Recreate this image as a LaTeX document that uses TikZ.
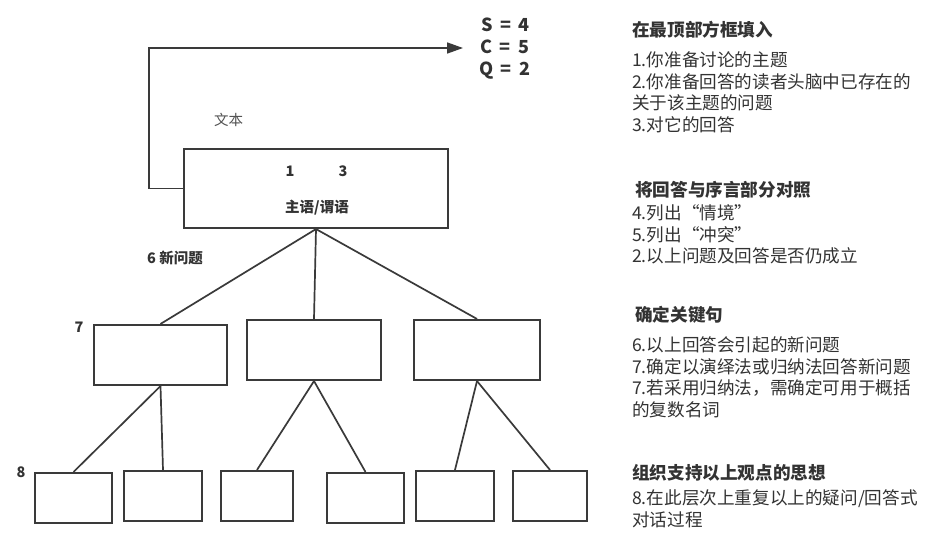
\documentclass[tikz,border=0pt]{standalone}
\usepackage{fontspec}
\setmainfont{Noto Sans CJK SC}
\usetikzlibrary{arrows.meta}
\definecolor{ink}{HTML}{333333}
\definecolor{edge}{HTML}{3A3A3A}
\newcommand{\eqsp}{\hspace{0.42em}}
\begin{document}
\begin{tikzpicture}[x=1pt,y=-1pt,
  box/.style={draw=edge,line width=2.1pt,fill=white,inner sep=0pt},
  link/.style={draw=edge,line width=1.7pt},
  lbl/.style={text=ink,inner sep=0pt,anchor=base,font=\fontsize{14.5}{17}\selectfont\bfseries},
  tally/.style={lbl,anchor=base west,font=\fontsize{18}{22}\selectfont\bfseries},
  head/.style={text=ink,inner sep=0pt,anchor=base west,font=\fontsize{17.6}{21}\selectfont\bfseries},
  body/.style={text=ink,inner sep=0pt,anchor=base west,font=\fontsize{17.6}{21}\selectfont}]
\useasboundingbox (0,0) rectangle (946,551);
\fill[white] (0,0) rectangle (946,551);

% tree boxes
\node[box,minimum width=264pt,minimum height=79pt] (top) at (316,188.5) {};
\node[box,minimum width=133pt,minimum height=60pt] (m1) at (160.5,355) {};
\node[box,minimum width=134pt,minimum height=60pt] (m2) at (314,350) {};
\node[box,minimum width=126pt,minimum height=60pt] (m3) at (477,350) {};
\node[box,minimum width=77pt,minimum height=50pt] (b1) at (73.5,498) {};
\node[box,minimum width=78pt,minimum height=50pt] (b2) at (163,496) {};
\node[box,minimum width=72pt,minimum height=50pt] (b3) at (257,496) {};
\node[box,minimum width=77pt,minimum height=50pt] (b4) at (365.5,498) {};
\node[box,minimum width=78pt,minimum height=50pt] (b5) at (455,496) {};
\node[box,minimum width=74pt,minimum height=50pt] (b6) at (550,496) {};

% connectors
\draw[link] (top.south) -- (m1.north);
\draw[link] (top.south) -- (m2.north);
\draw[link] (top.south) -- (m3.north);
\draw[link] (m1.south) -- (b1.north);
\draw[link] (m1.south) -- (b2.north);
\draw[link] (m2.south) -- (b3.north);
\draw[link] (m2.south) -- (b4.north);
\draw[link] (m3.south) -- (b5.north);
\draw[link] (m3.south) -- (b6.north);

% feedback arrow to the S/C/Q tally
\coordinate (tip) at (463,48);
\draw[link,-{Triangle[length=16pt,width=11pt]}] (top.west) -- ++(-34,0) |- (tip);

% labels in the tree
\node[lbl] (n1) at (290,176) {1};
\node[lbl] (n3) at (343,176) {3};
\node[lbl] (sp) at (317,212.5) {主语/谓语};
\node[text=ink!85,inner sep=0pt,anchor=base,font=\fontsize{14.5}{17}\selectfont] (wb) at (228.5,125.5) {文本};
\node[lbl,anchor=base west] (q6) at (147,263.5) {6 新问题};
\node[lbl] (n7) at (79,332) {7};
\node[lbl] (n8) at (21,477) {8};

% S/C/Q tally
\node[tally] (s) at (481,31.5) {S\eqsp=\eqsp4};
\node[tally] (c) at (480,53.5) {C\eqsp=\eqsp5};
\node[tally] (q) at (479,75.5) {Q\eqsp=\eqsp2};

% notes on the right
\node[head] (h1) at (632,36.6) {在最顶部方框填入};
\node[body] (a1) at (632,66.5) {1.你准备讨论的主题};
\node[body] (a2) at (632,88.2) {2.你准备回答的读者头脑中已存在的};
\node[body] (a3) at (632,109.9) {关于该主题的问题};
\node[body] (a4) at (632,131.6) {3.对它的回答};

\node[head] (h2) at (635,196.5) {将回答与序言部分对照};
\node[body] (b21) at (632,219.5) {4.列出“情境”};
\node[body] (b22) at (632,241) {5.列出“冲突”};
\node[body] (b23) at (632,262.5) {2.以上问题及回答是否仍成立};

\node[head] (h3) at (635,321.5) {确定关键句};
\node[body] (c1) at (632,351.5) {6.以上回答会引起的新问题};
\node[body] (c2) at (632,373) {7.确定以演绎法或归纳法回答新问题};
\node[body] (c3) at (632,394.5) {7.若采用归纳法，需确定可用于概括};
\node[body] (c4) at (632,416) {的复数名词};

\node[head] (h4) at (632,479.5) {组织支持以上观点的思想};
\node[body] (d1) at (632,504.5) {8.在此层次上重复以上的疑问/回答式};
\node[body] (d2) at (632,526) {对话过程};
\end{tikzpicture}
\end{document}
